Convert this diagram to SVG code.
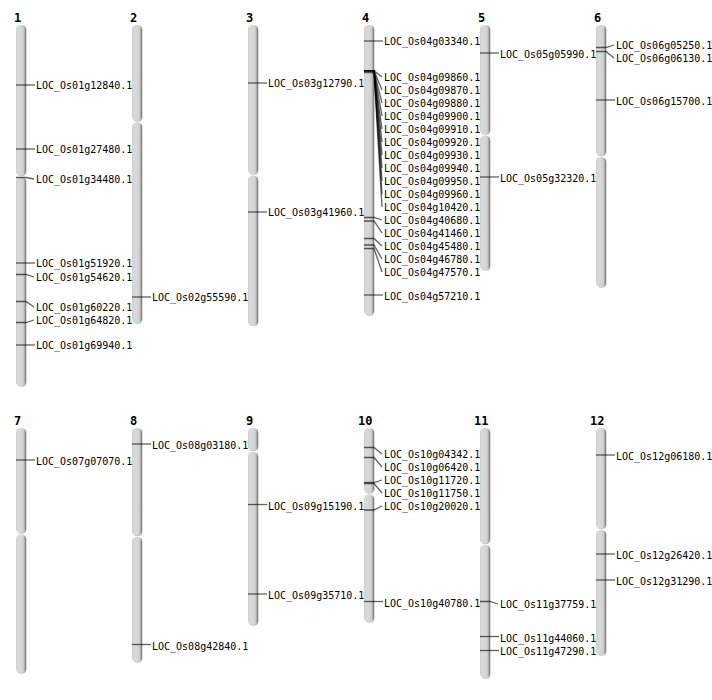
<svg xmlns="http://www.w3.org/2000/svg" width="712" height="700" viewBox="0 0 712 700">
<defs>
<linearGradient id="cg" x1="0" y1="0" x2="1" y2="0">
<stop offset="0" stop-color="#cdcdcd"/>
<stop offset="0.2" stop-color="#dadada"/>
<stop offset="0.68" stop-color="#d3d3d3"/>
<stop offset="0.82" stop-color="#bdbdbd"/>
<stop offset="1" stop-color="#6e6e6e"/>
</linearGradient>
</defs>
<style>
.arm{fill:url(#cg);}
.sh{fill:#9a9a9a;opacity:0.6;}
.num{font-family:"DejaVu Sans Mono","Liberation Mono",monospace;font-weight:bold;font-size:12px;fill:#000;}
.lab{font-family:"DejaVu Sans Mono","Liberation Mono",monospace;font-size:10px;fill:#000;}
.mk{fill:none;stroke:#000;stroke-opacity:0.62;stroke-width:1.3;}
</style>
<rect width="712" height="700" fill="#fff"/>

<g id="chr1">
<rect class="sh" x="16.6" y="25.8" width="10" height="150.5" rx="4.5"/>
<rect class="arm" x="16" y="25" width="10" height="150.5" rx="4.5"/>
<rect class="sh" x="16.6" y="177.8" width="10" height="209" rx="4.5"/>
<rect class="arm" x="16" y="177" width="10" height="209" rx="4.5"/>
<text class="num" x="14" y="22">1</text>
</g>
<g id="chr2">
<rect class="sh" x="132.6" y="25.8" width="10" height="96" rx="4.5"/>
<rect class="arm" x="132" y="25" width="10" height="96" rx="4.5"/>
<rect class="sh" x="132.6" y="123.3" width="10" height="200.5" rx="4.5"/>
<rect class="arm" x="132" y="122.5" width="10" height="200.5" rx="4.5"/>
<text class="num" x="130" y="22">2</text>
</g>
<g id="chr3">
<rect class="sh" x="248.6" y="25.8" width="10" height="149" rx="4.5"/>
<rect class="arm" x="248" y="25" width="10" height="149" rx="4.5"/>
<rect class="sh" x="248.6" y="176.3" width="10" height="150" rx="4.5"/>
<rect class="arm" x="248" y="175.5" width="10" height="150.5" rx="4.5"/>
<text class="num" x="246" y="22">3</text>
</g>
<g id="chr4">
<rect class="sh" x="364.6" y="25.8" width="10" height="290" rx="4.5"/>
<rect class="arm" x="364" y="25" width="10" height="290" rx="4.5"/>
<text class="num" x="362" y="22">4</text>
</g>
<g id="chr5">
<rect class="sh" x="480.6" y="25.8" width="10" height="109" rx="4.5"/>
<rect class="arm" x="480" y="25" width="10" height="109" rx="4.5"/>
<rect class="sh" x="480.6" y="136.3" width="10" height="134.5" rx="4.5"/>
<rect class="arm" x="480" y="135.5" width="10" height="134.5" rx="4.5"/>
<text class="num" x="478" y="22">5</text>
</g>
<g id="chr6">
<rect class="sh" x="596.6" y="25.8" width="10" height="130.5" rx="4.5"/>
<rect class="arm" x="596" y="25" width="10" height="130.5" rx="4.5"/>
<rect class="sh" x="596.6" y="157.8" width="10" height="130" rx="4.5"/>
<rect class="arm" x="596" y="157" width="10" height="130" rx="4.5"/>
<text class="num" x="594" y="22">6</text>
</g>
<g id="chr7">
<rect class="sh" x="16.6" y="428.8" width="10" height="105" rx="4.5"/>
<rect class="arm" x="16" y="428" width="10" height="105" rx="4.5"/>
<rect class="sh" x="16.6" y="535.3" width="10" height="138.5" rx="4.5"/>
<rect class="arm" x="16" y="534.5" width="10" height="138.5" rx="4.5"/>
<text class="num" x="14" y="425">7</text>
</g>
<g id="chr8">
<rect class="sh" x="132.6" y="428.8" width="10" height="107.5" rx="4.5"/>
<rect class="arm" x="132" y="428" width="10" height="107.5" rx="4.5"/>
<rect class="sh" x="132.6" y="537.8" width="10" height="125" rx="4.5"/>
<rect class="arm" x="132" y="537" width="10" height="125" rx="4.5"/>
<text class="num" x="130" y="425">8</text>
</g>
<g id="chr9">
<rect class="sh" x="248.6" y="428.8" width="10" height="22.5" rx="4.5"/>
<rect class="arm" x="248" y="428" width="10" height="22.5" rx="4.5"/>
<rect class="sh" x="248.6" y="452.8" width="10" height="173" rx="4.5"/>
<rect class="arm" x="248" y="452" width="10" height="173" rx="4.5"/>
<text class="num" x="246" y="425">9</text>
</g>
<g id="chr10">
<rect class="sh" x="364.6" y="428.8" width="10" height="65" rx="4.5"/>
<rect class="arm" x="364" y="428" width="10" height="65" rx="4.5"/>
<rect class="sh" x="364.6" y="495.3" width="10" height="127.5" rx="4.5"/>
<rect class="arm" x="364" y="494.5" width="10" height="127.5" rx="4.5"/>
<text class="num" x="358" y="425">10</text>
</g>
<g id="chr11">
<rect class="sh" x="480.6" y="428.8" width="10" height="115.5" rx="4.5"/>
<rect class="arm" x="480" y="428" width="10" height="115.5" rx="4.5"/>
<rect class="sh" x="480.6" y="545.8" width="10" height="133" rx="4.5"/>
<rect class="arm" x="480" y="545" width="10" height="133" rx="4.5"/>
<text class="num" x="474" y="425">11</text>
</g>
<g id="chr12">
<rect class="sh" x="596.6" y="428.8" width="10" height="100.5" rx="4.5"/>
<rect class="arm" x="596" y="428" width="10" height="100.5" rx="4.5"/>
<rect class="sh" x="596.6" y="530.8" width="10" height="125" rx="4.5"/>
<rect class="arm" x="596" y="530" width="10" height="125" rx="4.5"/>
<text class="num" x="590" y="425">12</text>
</g>

<g id="connectors">
<path class="mk" d="M16,85H35"/>
<path class="mk" d="M16,149H35"/>
<path class="mk" d="M16,177.5H26L34,179"/>
<path class="mk" d="M16,263H35"/>
<path class="mk" d="M16,274.5H26L34,277"/>
<path class="mk" d="M16,301.5H26L34,307"/>
<path class="mk" d="M16,322.5H26L34,320"/>
<path class="mk" d="M16,345H35"/>
<path class="mk" d="M132,297H151"/>
<path class="mk" d="M248,83H267"/>
<path class="mk" d="M248,212H267"/>
<path class="mk" d="M364,41H383"/>
<path class="mk" d="M364,70.7H374L382,77"/>
<path class="mk" d="M364,70.7H374L382,90"/>
<path class="mk" d="M364,70.7H374L382,103"/>
<path class="mk" d="M364,70.7H374L382,116"/>
<path class="mk" d="M364,70.7H374L382,129"/>
<path class="mk" d="M364,70.7H374L382,142"/>
<path class="mk" d="M364,70.7H374L382,155"/>
<path class="mk" d="M364,70.7H374L382,168"/>
<path class="mk" d="M364,70.7H374L382,181"/>
<path class="mk" d="M364,70.7H374L382,194"/>
<path class="mk" d="M364,72.7H374L382,207"/>
<path class="mk" d="M364,217.5H374L382,220"/>
<path class="mk" d="M364,221H374L382,233"/>
<path class="mk" d="M364,238.5H374L382,246"/>
<path class="mk" d="M364,245H374L382,259"/>
<path class="mk" d="M364,248.5H374L382,272"/>
<path class="mk" d="M364,295H383"/>
<path class="mk" d="M480,53H499"/>
<path class="mk" d="M480,177H499"/>
<path class="mk" d="M596,47.5H606L614,45"/>
<path class="mk" d="M596,51.5H606L614,58"/>
<path class="mk" d="M596,100H615"/>
<path class="mk" d="M16,460H35"/>
<path class="mk" d="M132,444H151"/>
<path class="mk" d="M132,644.5H151"/>
<path class="mk" d="M248,504.5H267"/>
<path class="mk" d="M248,594H267"/>
<path class="mk" d="M364,447.5H374L382,454"/>
<path class="mk" d="M364,457.5H374L382,467"/>
<path class="mk" d="M364,482.5H374L382,480"/>
<path class="mk" d="M364,483.5H374L382,493"/>
<path class="mk" d="M364,510H374L382,506"/>
<path class="mk" d="M364,601.5H383"/>
<path class="mk" d="M480,601.5H490L498,604"/>
<path class="mk" d="M480,636.5H499"/>
<path class="mk" d="M480,650.5H499"/>
<path class="mk" d="M596,455H615"/>
<path class="mk" d="M596,554H615"/>
<path class="mk" d="M596,580H615"/>
</g>

<g id="labels">
<text class="lab" x="36" y="88.6">LOC_Os01g12840.1</text>
<text class="lab" x="36" y="152.6">LOC_Os01g27480.1</text>
<text class="lab" x="36" y="182.6">LOC_Os01g34480.1</text>
<text class="lab" x="36" y="266.6">LOC_Os01g51920.1</text>
<text class="lab" x="36" y="280.6">LOC_Os01g54620.1</text>
<text class="lab" x="36" y="310.6">LOC_Os01g60220.1</text>
<text class="lab" x="36" y="323.6">LOC_Os01g64820.1</text>
<text class="lab" x="36" y="348.6">LOC_Os01g69940.1</text>
<text class="lab" x="152" y="300.6">LOC_Os02g55590.1</text>
<text class="lab" x="268" y="86.6">LOC_Os03g12790.1</text>
<text class="lab" x="268" y="215.6">LOC_Os03g41960.1</text>
<text class="lab" x="384" y="44.6">LOC_Os04g03340.1</text>
<text class="lab" x="384" y="80.6">LOC_Os04g09860.1</text>
<text class="lab" x="384" y="93.6">LOC_Os04g09870.1</text>
<text class="lab" x="384" y="106.6">LOC_Os04g09880.1</text>
<text class="lab" x="384" y="119.6">LOC_Os04g09900.1</text>
<text class="lab" x="384" y="132.6">LOC_Os04g09910.1</text>
<text class="lab" x="384" y="145.6">LOC_Os04g09920.1</text>
<text class="lab" x="384" y="158.6">LOC_Os04g09930.1</text>
<text class="lab" x="384" y="171.6">LOC_Os04g09940.1</text>
<text class="lab" x="384" y="184.6">LOC_Os04g09950.1</text>
<text class="lab" x="384" y="197.6">LOC_Os04g09960.1</text>
<text class="lab" x="384" y="210.6">LOC_Os04g10420.1</text>
<text class="lab" x="384" y="223.6">LOC_Os04g40680.1</text>
<text class="lab" x="384" y="236.6">LOC_Os04g41460.1</text>
<text class="lab" x="384" y="249.6">LOC_Os04g45480.1</text>
<text class="lab" x="384" y="262.6">LOC_Os04g46780.1</text>
<text class="lab" x="384" y="275.6">LOC_Os04g47570.1</text>
<text class="lab" x="384" y="299.6">LOC_Os04g57210.1</text>
<text class="lab" x="500" y="57.6">LOC_Os05g05990.1</text>
<text class="lab" x="500" y="181.6">LOC_Os05g32320.1</text>
<text class="lab" x="616" y="48.6">LOC_Os06g05250.1</text>
<text class="lab" x="616" y="61.6">LOC_Os06g06130.1</text>
<text class="lab" x="616" y="104.6">LOC_Os06g15700.1</text>
<text class="lab" x="36" y="464.6">LOC_Os07g07070.1</text>
<text class="lab" x="152" y="448.6">LOC_Os08g03180.1</text>
<text class="lab" x="152" y="649.6">LOC_Os08g42840.1</text>
<text class="lab" x="268" y="509.6">LOC_Os09g15190.1</text>
<text class="lab" x="268" y="598.6">LOC_Os09g35710.1</text>
<text class="lab" x="384" y="457.6">LOC_Os10g04342.1</text>
<text class="lab" x="384" y="470.6">LOC_Os10g06420.1</text>
<text class="lab" x="384" y="483.6">LOC_Os10g11720.1</text>
<text class="lab" x="384" y="496.6">LOC_Os10g11750.1</text>
<text class="lab" x="384" y="509.6">LOC_Os10g20020.1</text>
<text class="lab" x="384" y="606.6">LOC_Os10g40780.1</text>
<text class="lab" x="500" y="607.6">LOC_Os11g37759.1</text>
<text class="lab" x="500" y="641.6">LOC_Os11g44060.1</text>
<text class="lab" x="500" y="654.6">LOC_Os11g47290.1</text>
<text class="lab" x="616" y="459.6">LOC_Os12g06180.1</text>
<text class="lab" x="616" y="558.6">LOC_Os12g26420.1</text>
<text class="lab" x="616" y="584.6">LOC_Os12g31290.1</text>
</g>
</svg>
